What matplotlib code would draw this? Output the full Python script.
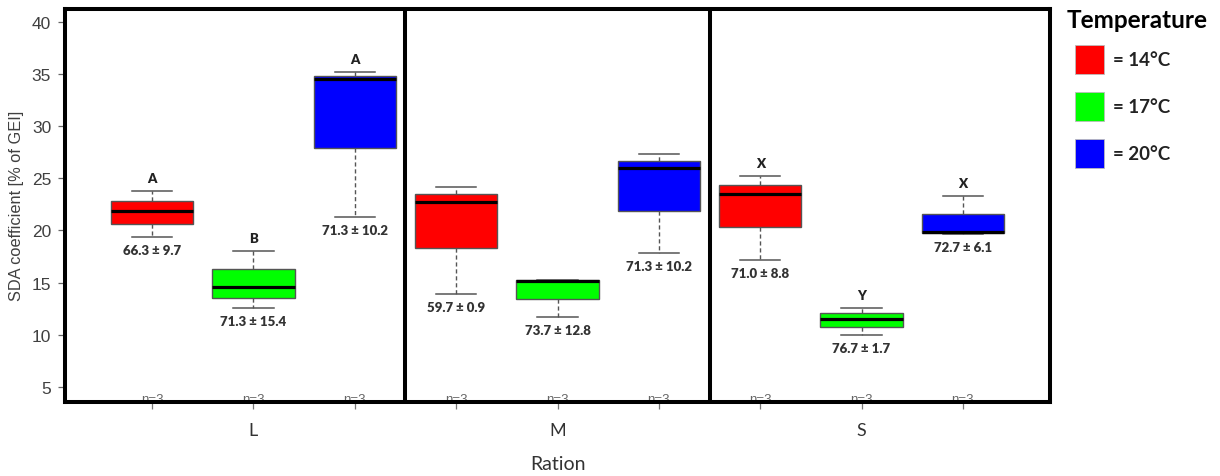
import matplotlib
matplotlib.use("Agg")
import matplotlib.pyplot as plt
from matplotlib.patches import Rectangle

# Three replicate SDA coefficients (% of GEI) per ration x temperature group
rations = ["L", "M", "S"]
temperatures = ["14°C", "17°C", "20°C"]
temp_colors = ["#FF0000", "#00FF00", "#0000FF"]

sda_L = [[19.38, 21.87, 23.75], [12.55, 14.56, 18.00], [21.29, 34.48, 35.20]]
sda_M = [[13.89, 22.73, 24.17], [11.74, 15.20, 15.29], [17.84, 25.96, 27.36]]
sda_S = [[17.17, 23.50, 25.19], [9.99, 11.55, 12.55], [19.64, 19.86, 23.30]]

# Mean ± SD annotations and significance letters per group
value_labels = ["66.3 ± 9.7", "71.3 ± 15.4", "71.3 ± 10.2",
                "59.7 ± 0.9", "73.7 ± 12.8", "71.3 ± 10.2",
                "71.0 ± 8.8", "76.7 ± 1.7", "72.7 ± 6.1"]
sig_letters = ["A", "B", "A", "", "", "", "X", "Y", "X"]
n_labels = ["n=3"] * 9

yticks = [5, 10, 15, 20, 25, 30, 35, 40]

groups = sda_L + sda_M + sda_S
colors = temp_colors * len(rations)
positions = list(range(1, len(groups) + 1))

fig = plt.figure(figsize=(12.2, 4.77), dpi=100)
ax = fig.add_axes([65 / 1220, 1 - 403 / 477, 985 / 1220, 393 / 477])

bp = ax.boxplot(groups, positions=positions, widths=0.81, whis=(0, 100),
                patch_artist=True, capwidths=0.4, showfliers=False,
                boxprops=dict(edgecolor="#555555", linewidth=1.0),
                whiskerprops=dict(color="#555555", linewidth=1.0, linestyle=(0, (3, 2))),
                capprops=dict(color="#555555", linewidth=1.1),
                medianprops=dict(color="black", linewidth=2.3))
for patch, c in zip(bp["boxes"], colors):
    patch.set_facecolor(c)

label_font = "Lato"
for i, pos in enumerate(positions):
    lo = min(groups[i])
    hi = max(groups[i])
    ax.annotate(value_labels[i], xy=(pos, lo), xytext=(0, -9.3), textcoords="offset points",
                ha="center", va="center", fontsize=9.5, fontweight="heavy",
                color="#333333", family=label_font)
    if sig_letters[i]:
        ax.annotate(sig_letters[i], xy=(pos, hi), xytext=(0, 9.6), textcoords="offset points",
                    ha="center", va="center", fontsize=9.5, fontweight="heavy",
                    color="#222222", family=label_font)
    ax.annotate(n_labels[i], xy=(pos, 0), xycoords=("data", "axes fraction"),
                xytext=(0, 0.2), textcoords="offset points", ha="center", va="baseline",
                fontsize=9.5, color="#666666", family="Liberation Sans", zorder=1)

# Panel separators between rations
for xsep in (3.5, 6.5):
    ax.axvline(xsep, color="black", linewidth=2.9)

ax.set_xlim(0.14, 9.86)
ax.set_ylim(3.57, 41.22)
ax.set_yticks(yticks)
ax.set_yticklabels([str(t) for t in yticks], family="Liberation Sans", fontsize=12.5,
                   color="#404040")
ax.set_xticks(positions)
ax.set_xticklabels([])
ax.tick_params(axis="y", direction="out", length=5, width=0.9, color="#666666", pad=5)
ax.tick_params(axis="x", direction="out", length=5, width=0.9, color="#777777")
for sp in ax.spines.values():
    sp.set_linewidth(2.9)
    sp.set_color("black")

# Ration names under each panel
for j, name in enumerate(rations):
    ax.annotate(name, xy=(3 * j + 2, 0), xycoords=("data", "axes fraction"),
                xytext=(0, -20.2), textcoords="offset points", ha="center", va="center",
                fontsize=13, color="#333333", family=label_font)
ax.annotate("Ration", xy=(5, 0), xycoords=("data", "axes fraction"),
            xytext=(0, -44), textcoords="offset points", ha="center", va="center",
            fontsize=14, color="#333333", family=label_font)

fig.text(17 / 1220, 1 - 206 / 477, "SDA coefficient [% of GEI]", rotation=90,
         ha="center", va="center", fontsize=11.8, color="#404040", family="Liberation Sans")

# Temperature key
fig.text(1067 / 1220, 1 - 21 / 477, "Temperature", ha="left", va="center",
         fontsize=17.5, fontweight="bold", color="black", family=label_font)
for k, (t, c) in enumerate(zip(temperatures, temp_colors)):
    top = 46 + 47 * k
    fig.add_artist(Rectangle((1075 / 1220, 1 - (top + 29) / 477), 29 / 1220, 29 / 477,
                             transform=fig.transFigure, facecolor=c,
                             edgecolor="#bbbbbb", linewidth=0.6))
    fig.text(1113 / 1220, 1 - (top + 15) / 477, "= " + t, ha="left", va="center",
             fontsize=13.5, fontweight="bold", color="#222222", family=label_font)

fig.savefig("out.png", dpi=100)
